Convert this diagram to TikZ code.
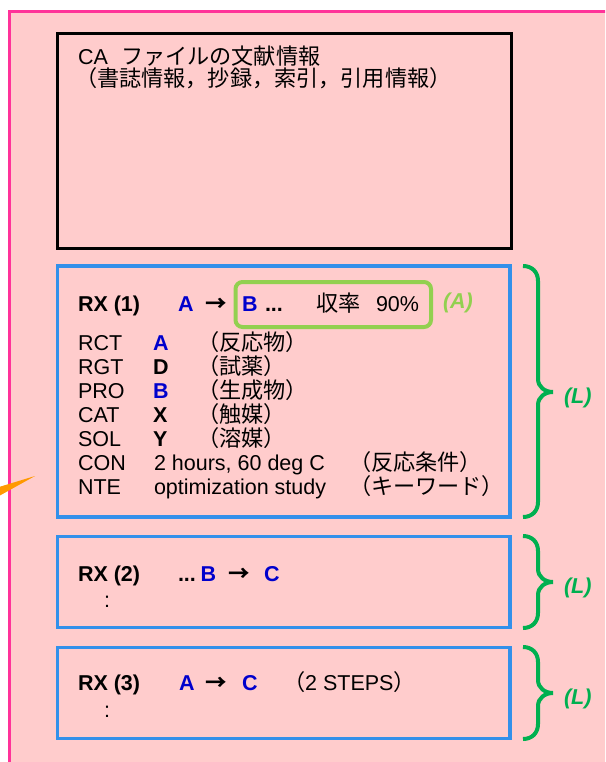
\documentclass[tikz,border=0pt]{standalone}
\usepackage{fontspec}
\setmainfont{Liberation Sans}
\newfontfamily\jp{Noto Sans CJK JP}[Scale=1.03]
\newfontfamily\arrowfont{Noto Sans CJK JP}[Scale=1.0]
\definecolor{pinkfill}{RGB}{255,204,204}
\definecolor{pinkline}{RGB}{255,51,153}
\definecolor{boxblue}{RGB}{51,144,234}
\definecolor{txtblue}{RGB}{0,0,204}
\definecolor{lgreen}{RGB}{146,208,80}
\definecolor{dgreen}{RGB}{0,176,80}
\definecolor{orng}{RGB}{255,153,0}
\begin{document}
\begin{tikzpicture}[x=1pt,y=-1pt,
  txt/.style={anchor=base west,inner sep=0pt,outer sep=0pt,font=\fontsize{21.5}{24}\selectfont},
  bt/.style={txt,font=\fontsize{21.5}{24}\selectfont\bfseries},
  bl/.style={bt,text=txtblue},
  arr/.style={txt,font=\fontsize{21.5}{24}\selectfont\arrowfont\bfseries},
  lbl/.style={txt,font=\fontsize{21.5}{24}\selectfont\bfseries\itshape},
  docbox/.style={draw=black,line width=3pt,anchor=north west,inner sep=0pt,outer sep=0pt},
  rxbox/.style={draw=boxblue,line width=3.5pt,anchor=north west,inner sep=0pt,outer sep=0pt,minimum width=452.5pt},
  brc/.style={draw=dgreen,line width=4pt}
]
\useasboundingbox (0,0) rectangle (605,762);
\clip (0,0) rectangle (605,762);
\draw[pinkline,fill=pinkfill,line width=3pt] (9,11.5) rectangle (640,800);
\fill[orng] (-1,487) -- (35,476) -- (-1,496) -- cycle;

% document box
\node[docbox,minimum width=453.5pt,minimum height=214.5pt] (doc) at (57.5,33.5) {};
\node[txt] (docl1) at (78,65) {CA};
\node[txt] (docl1b) at (121,65) {\jp ファイルの文献情報};
\node[txt] (docl2) at (75,87) {\jp （書誌情報，抄録，索引，引用情報）};

% RX 1
\node[rxbox,minimum height=251pt] (box1) at (57.5,266) {};
\node[draw=lgreen,line width=4pt,rounded corners=7pt,anchor=north west,inner sep=0pt,outer sep=0pt,minimum width=195.5pt,minimum height=45pt] (yieldbox) at (235.5,282) {};
\node[bt] (rx1) at (78,311) {RX (1)};
\node[bl] (a1) at (178,311) {A};
\node[arr] (ar1) at (205,311) {→};
\node[bl] (b1) at (242,311) {B};
\node[bt] (d1) at (265,311) {...};
\node[txt] (y1) at (316,311) {\jp 収率};
\node[txt] (p1) at (376,311) {90\%};
\node[lbl,text=lgreen] (lA) at (443,308) {(A)};

\node[txt] (k1) at (78,350.5) {RCT};
\node[txt] (k2) at (78,374.5) {RGT};
\node[txt] (k3) at (78,398.5) {PRO};
\node[txt] (k4) at (78,422.5) {CAT};
\node[txt] (k5) at (78,446.5) {SOL};
\node[txt] (k6) at (78,470.5) {CON};
\node[txt] (k7) at (78,494.5) {NTE};
\node[bl] (v1) at (153,350.5) {A};
\node[bt] (v2) at (153,374.5) {D};
\node[bl] (v3) at (153,398.5) {B};
\node[bt] (v4) at (153,422.5) {X};
\node[bt] (v5) at (153,446.5) {Y};
\node[txt] (v6) at (154,470.5) {2 hours, 60 deg C};
\node[txt] (v7) at (154,494.5) {optimization study};
\node[txt] (j1) at (197,350.5) {\jp （反応物）};
\node[txt] (j2) at (197,374.5) {\jp （試薬）};
\node[txt] (j3) at (197,398.5) {\jp （生成物）};
\node[txt] (j4) at (197,422.5) {\jp （触媒）};
\node[txt] (j5) at (197,446.5) {\jp （溶媒）};
\node[txt] (j6) at (349,470.5) {\jp （反応条件）};
\node[txt] (j7) at (349,494.5) {\jp （キーワード）};

% RX 2
\node[rxbox,minimum height=91pt] (box2) at (57.5,536.5) {};
\node[bt] (rx2) at (78,581) {RX (2)};
\node[bt] (d2) at (178,581) {...};
\node[bl] (b2) at (200.5,581) {B};
\node[arr] (ar2) at (228,581) {→};
\node[bl] (c2) at (264,581) {C};
\node[txt] (cl2) at (104,607) {:};

% RX 3
\node[rxbox,minimum height=91pt] (box3) at (57.5,647.5) {};
\node[bt] (rx3) at (78,690) {RX (3)};
\node[bl] (a3) at (179,690) {A};
\node[arr] (ar3) at (205,690) {→};
\node[bl] (c3) at (242,690) {C};
\node[txt] (st3) at (283,690) {\jp （\fontspec{Liberation Sans}2 STEPS\jp ）};
\node[txt] (cl3) at (104,717) {:};

% braces
\draw[brc] (523,266) .. controls (532,266) and (538,272) .. (538,281) -- (538,379)
  .. controls (538,387) and (545,392) .. (553,392)
  .. controls (545,392) and (538,397) .. (538,405) -- (538,502)
  .. controls (538,511) and (532,517) .. (523,517);
\node[lbl,text=dgreen] (L1) at (564,403) {(L)};
\draw[brc] (523,536) .. controls (532,536) and (538,542) .. (538,551) -- (538,569)
  .. controls (538,577) and (545,582) .. (553,582)
  .. controls (545,582) and (538,587) .. (538,595) -- (538,613)
  .. controls (538,622) and (532,628) .. (523,628);
\node[lbl,text=dgreen] (L2) at (564,593) {(L)};
\draw[brc] (523,647) .. controls (532,647) and (538,653) .. (538,662) -- (538,680)
  .. controls (538,688) and (545,693) .. (553,693)
  .. controls (545,693) and (538,698) .. (538,706) -- (538,724)
  .. controls (538,733) and (532,739) .. (523,739);
\node[lbl,text=dgreen] (L3) at (564,704) {(L)};
\end{tikzpicture}
\end{document}
